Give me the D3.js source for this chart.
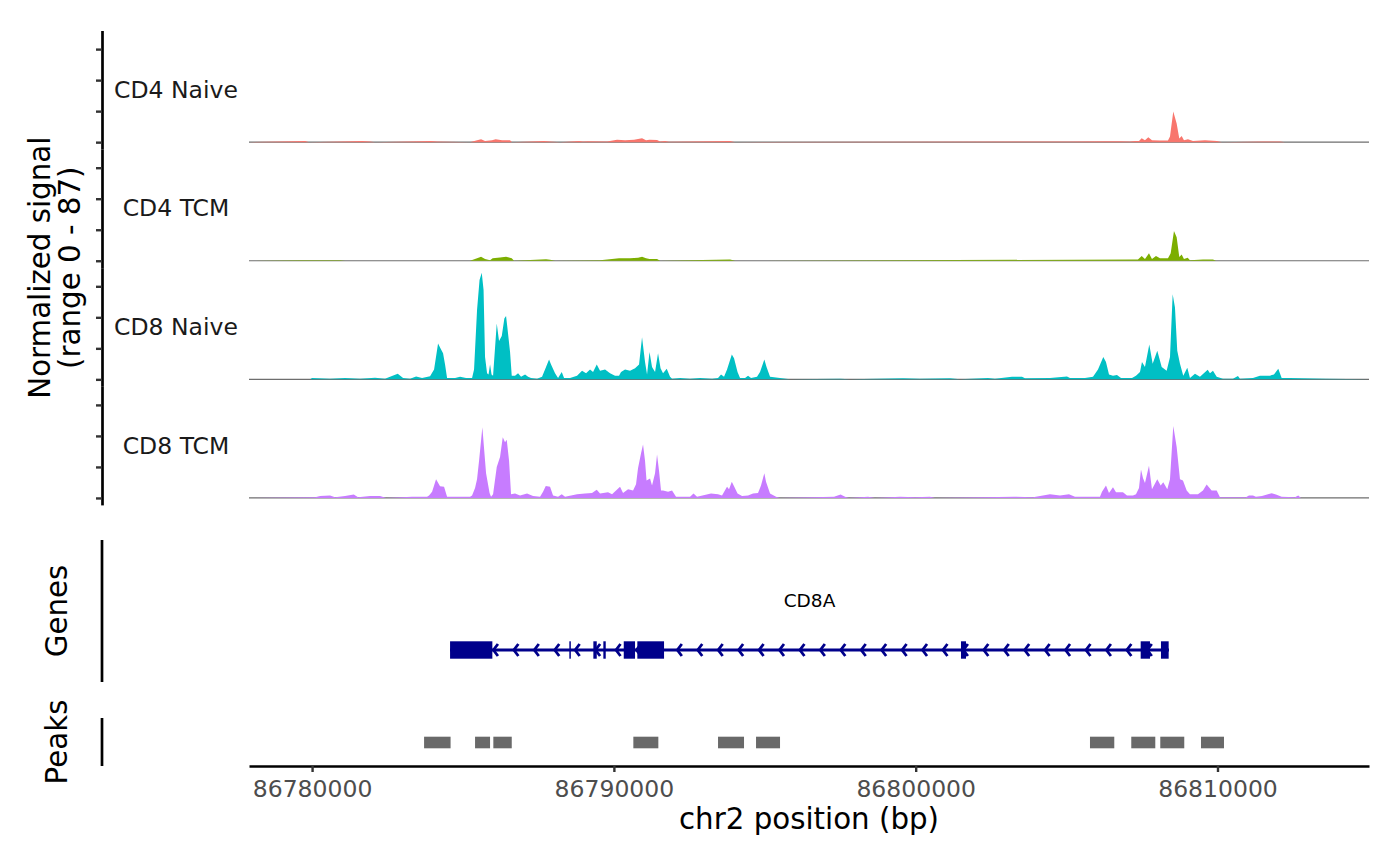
<!DOCTYPE html>
<html>
<head>
<meta charset="utf-8">
<script src="https://cdn.jsdelivr.net/npm/d3@7"></script>
<style>
  body { margin: 0; background: #fff; }
  svg text { font-family: "DejaVu Sans", sans-serif; }
</style>
</head>
<body>
<svg id="chart" width="1400" height="865"></svg>
<script>
// region shown (bp on chr2)
const region = [86777910, 86815020];
const xTicks = [86780000, 86790000, 86800000, 86810000];
const signalTicks = [0, 25, 50, 75];
const signalMax = 87;

const tracks = ['CD4 Naive', 'CD4 TCM', 'CD8 Naive', 'CD8 TCM'];
const trackColors = ['#F8766D', '#7CAE00', '#00BFC4', '#C77CFF'];

// coverage: [position, normalized signal]
const cd4Naive = [
  [86777910,0],[86779768,1],[86779901,0],[86781657,1],[86781922,0.5],[86782087,0],
  [86783942,1],[86784141,0.5],[86785235,0],[86785466,1.5],[86785599,2.4],[86785731,1],
  [86785963,1.5],[86786083,2.4],[86786295,1.6],[86786560,1.5],[86786626,0],[86787686,1],
  [86787885,0.5],[86788216,0],[86788846,1],[86788978,0.5],[86789144,0.8],[86789773,0.5],
  [86790105,2],[86790370,1.5],[86790668,2],[86790933,3.2],[86791065,1.5],[86791181,2],
  [86791430,1.8],[86791529,0.5],[86791695,1],[86791827,0.3],[86793848,1],[86794014,0],
  [86804616,0.5],[86805113,0.5],[86806272,0.8],[86806769,0.8],[86807100,0.5],[86807266,1],
  [86807399,1],[86807488,3.2],[86807597,1.5],[86807707,4],[86807829,1.5],[86808094,1.3],
  [86808359,1.3],[86808426,4.6],[86808535,24.7],[86808647,15],[86808734,3],[86808813,5],
  [86808889,1.5],[86809022,2.4],[86809188,1],[86809585,1.6],[86809983,1],[86810148,0],
  [86811507,0.5],[86812070,0.5],[86812235,0],[86815020,0]
];
const cd4Tcm = [
  [86777910,0],[86779636,0.5],[86780928,0.5],[86781093,0],[86785235,0],[86785466,2],
  [86785599,3.2],[86785731,1.5],[86785897,0.5],[86785983,2],[86786228,2.7],[86786427,3.2],
  [86786616,2],[86786692,0],[86787752,1.3],[86787885,0.8],[86788051,0],[86789541,0.5],
  [86790171,2],[86790535,2],[86790800,2.5],[86790933,3.2],[86791065,2],[86791181,1.5],
  [86791430,1.5],[86791529,0],[86793848,1],[86794014,0],[86807200,1],[86807365,1],
  [86807488,3.8],[86807597,1.5],[86807730,6],[86807829,1.5],[86807962,3.8],[86808094,2],
  [86808359,2],[86808449,6],[86808558,24],[86808647,19],[86808734,3],[86808813,5],
  [86808889,1.5],[86809012,2.4],[86809088,0.5],[86809519,1],[86809850,1],[86809950,0],
  [86815020,0]
];
const cd8Naive = [
  [86777910,0],[86779934,0],[86780000,1],[86780596,0.5],[86781093,1],[86781590,0.5],
  [86782087,1.2],[86782418,0.5],[86782584,2],[86782839,4.6],[86783015,1],[86783247,0.5],
  [86783446,2.4],[86783644,1],[86783909,2.5],[86784042,8],[86784174,29],[86784274,24],
  [86784340,21],[86784406,12],[86784473,1],[86784738,1],[86784903,2],[86785102,1],
  [86785301,1],[86785367,8],[86785466,56],[86785549,80],[86785622,86],[86785682,72],
  [86785731,18],[86785798,5],[86785847,4],[86785897,12],[86785947,4],[86785997,3],
  [86786119,45],[86786195,31],[86786285,35],[86786371,49],[86786427,51],[86786470,42],
  [86786560,22],[86786616,3],[86786725,3],[86786825,5],[86786924,2],[86787057,4],
  [86787156,2],[86787255,1],[86787454,0.5],[86787620,2],[86787752,10],[86787852,16],
  [86787918,12],[86788051,5],[86788150,1],[86788273,6],[86788349,1],[86788548,1],
  [86788779,3],[86788945,7],[86789078,5],[86789210,8],[86789310,6],[86789432,12],
  [86789541,7],[86789707,8],[86789873,5],[86790038,3],[86790171,3],[86790237,6],
  [86790370,8],[86790535,7],[86790701,9],[86790834,12],[86790933,34],[86791032,14],
  [86791099,4],[86791181,22],[86791264,10],[86791364,6],[86791463,21],[86791546,9],
  [86791629,5],[86791751,8.6],[86791861,2],[86791927,0.5],[86792192,1],[86792523,0.5],
  [86792854,1],[86793252,0.5],[86793451,1],[86793550,4],[86793650,2],[86793749,8],
  [86793908,20],[86793981,17],[86794097,6],[86794180,1],[86794345,1],[86794445,3],
  [86794544,1],[86794743,2],[86794842,6],[86794985,16],[86795058,10],[86795174,2],
  [86795505,1],[86795836,0],[86797493,0.5],[86797824,0],[86799580,0.8],[86800143,0.5],
  [86801137,0.8],[86801468,0],[86802396,1],[86802628,0.5],[86803191,2],[86803522,2],
  [86803622,0.8],[86804450,1],[86805013,2.4],[86805113,1],[86805444,1],[86805609,1],
  [86805875,2],[86806040,8],[86806216,18],[86806305,14],[86806405,4],[86806537,3],
  [86806670,3.5],[86806803,1],[86806968,1],[86807167,1],[86807299,3],[86807432,6],
  [86807498,14],[86807597,10],[86807740,28],[86807852,12.6],[86808005,23],[86808151,10],
  [86808316,7],[86808426,18],[86808515,68.5],[86808591,58],[86808667,23],[86808757,12.6],
  [86808866,3],[86808999,9.4],[86809088,1],[86809254,4.6],[86809419,2],[86809675,7.8],
  [86809751,5],[86809850,7],[86809973,2],[86810181,0.5],[86810513,0.5],[86810678,2.7],
  [86810745,0.5],[86811175,1],[86811407,3],[86811739,3],[86811871,4],[86812014,8.6],
  [86812126,1],[86812401,1],[86813594,0.5],[86815020,0]
];
const cd8Tcm = [
  [86777910,0],[86780099,0.5],[86780265,1.5],[86780596,2],[86780762,0.5],[86781093,1.5],
  [86781382,2.7],[86781524,0.5],[86781922,1.5],[86782253,1.5],[86782452,0],[86783313,1],
  [86783810,1],[86783876,2],[86783976,5],[86784108,15],[86784241,9.4],[86784373,9],
  [86784473,1],[86784903,1],[86785235,1],[86785301,2],[86785400,8],[86785466,15],
  [86785533,30],[86785642,57],[86785698,40],[86785765,20],[86785881,4],[86785930,1],
  [86785997,3],[86786119,25],[86786228,33],[86786318,49],[86786394,45],[86786450,47],
  [86786527,30],[86786593,3],[86786725,3.5],[86786891,2],[86787123,3.5],[86787322,1.5],
  [86787554,1],[86787653,5],[86787743,9.7],[86787885,9],[86787984,2],[86788150,1],
  [86788273,3],[86788382,1],[86788779,3],[86789044,3.5],[86789276,4],[86789432,6.7],
  [86789541,3.5],[86789806,4.5],[86789939,3],[86790204,9],[86790303,4],[86790469,7],
  [86790635,6],[86790734,11],[86790800,24],[86790900,36],[86790966,43],[86791032,30],
  [86791082,14],[86791198,15.6],[86791264,10],[86791364,20],[86791430,35],[86791496,22],
  [86791562,6],[86791629,6],[86791794,5],[86791927,6],[86792059,1],[86792523,1],
  [86792639,3.5],[86792755,1],[86793219,3.5],[86793451,3],[86793583,2],[86793749,9],
  [86793815,7],[86793908,13],[86793981,9.4],[86794097,3.5],[86794246,1.5],[86794445,2],
  [86794610,3.5],[86794776,4],[86794875,10],[86794985,20],[86795041,13],[86795174,3.5],
  [86795372,1],[86795505,0],[86797294,1],[86797513,2.7],[86797658,1],[86797791,0],
  [86798420,1],[86798652,0],[86799480,1],[86799977,0.5],[86800474,1],[86800640,0],
  [86803257,1],[86803887,0.5],[86804450,3],[86804781,2],[86805079,3],[86805278,1],
  [86806106,1],[86806173,5],[86806305,10],[86806405,4],[86806537,8.6],[86806637,4.6],
  [86806868,4.6],[86807001,2],[86807200,2],[86807299,3],[86807399,8],[86807465,23],
  [86807531,16],[86807597,12],[86807730,26],[86807829,7],[86808005,15],[86808117,10],
  [86808204,12.6],[86808336,7],[86808426,15],[86808535,58],[86808647,41],[86808757,15],
  [86808856,14],[86808979,6],[86809088,3],[86809353,3],[86809519,6],[86809641,10.8],
  [86809807,6],[86809973,6],[86810082,0.5],[86810943,0.5],[86811043,2],[86811175,2],
  [86811274,1],[86811474,1.5],[86811672,3],[86811795,3.8],[86811937,2.7],[86812126,1],
  [86812567,0.5],[86812676,2],[86812766,0],[86815020,0]
];
const trackData = [cd4Naive, cd4Tcm, cd8Naive, cd8Tcm];

// gene model (minus strand)
const geneName = 'CD8A';
const geneSpan = [86784572, 86808392];
const exons = [
  [86784572,86785973],[86788524,86788571],[86789320,86789432],[86789651,86789730],
  [86790327,86790701],[86790777,86791662],[86801501,86801667],[86807455,86807763],
  [86808127,86808382]
];
const arrowStep = 677, firstArrow = 86786009;

const peaks = [
  [86783711,86784589],[86785400,86785897],[86786006,86786616],[86790645,86791473],
  [86793451,86794312],[86794710,86795505],[86805775,86806580],[86807143,86807939],
  [86808104,86808899],[86809453,86810215]
];

// layout
const axisX = 102, px0 = 249, px1 = 1369;
const covTop = 30.5, trackH = 118.6;
const genesBox = [540, 682], geneY = 650;
const peaksBox = [718, 766], peakY = 742.5;

const svg = d3.select('#chart');
const x = d3.scaleLinear().domain(region).range([px0, px1]);

svg.append('defs').append('clipPath').attr('id', 'clip')
  .append('rect').attr('x', px0).attr('y', 0).attr('width', px1 - px0).attr('height', 865);

// coverage tracks
tracks.forEach((name, i) => {
  const top = covTop + i * trackH, bottom = top + trackH;
  const y = d3.scaleLinear().domain([-5.6, 90]).range([bottom, top]);
  const g = svg.append('g');

  g.append('line')
    .attr('x1', px0).attr('x2', px1).attr('y1', y(0)).attr('y2', y(0))
    .attr('stroke', '#6e6e6e').attr('stroke-width', 1.2);

  const area = d3.area().x(d => x(d[0])).y0(y(0)).y1(d => y(d[1]));
  g.append('path').datum(trackData[i])
    .attr('clip-path', 'url(#clip)')
    .attr('d', area).attr('fill', trackColors[i]);

  const ax = g.append('g').attr('transform', `translate(${axisX},0)`)
    .call(d3.axisLeft(y).tickValues(signalTicks).tickFormat('').tickSize(6).tickSizeOuter(0));
  ax.select('.domain').attr('stroke', '#000').attr('stroke-width', 2.7);
  ax.selectAll('.tick line').attr('stroke', '#333').attr('stroke-width', 2.4);

  g.append('text')
    .attr('x', (axisX + px0) / 2 + 0.5).attr('y', (top + bottom) / 2)
    .attr('text-anchor', 'middle').attr('dominant-baseline', 'central')
    .attr('font-size', 23.5).attr('fill', '#1a1a1a').text(name);
});

// y title
const yTitle = svg.append('text')
  .attr('transform', `translate(0,${covTop + 2 * trackH}) rotate(-90)`)
  .attr('text-anchor', 'middle').attr('font-size', 29.3).attr('fill', '#000');
yTitle.append('tspan').attr('x', 0).attr('y', 50).text('Normalized signal');
yTitle.append('tspan').attr('x', 0).attr('y', 80).text(`(range 0 - ${signalMax})`);

// genes panel
svg.append('line').attr('x1', axisX).attr('x2', axisX)
  .attr('y1', genesBox[0]).attr('y2', genesBox[1])
  .attr('stroke', '#000').attr('stroke-width', 2.7);
svg.append('text')
  .attr('transform', `translate(67,${(genesBox[0] + genesBox[1]) / 2}) rotate(-90)`)
  .attr('text-anchor', 'middle').attr('font-size', 29.3).text('Genes');

const geneG = svg.append('g');
const navy = '#00008B';
geneG.append('line')
  .attr('x1', x(geneSpan[0])).attr('x2', x(geneSpan[1]))
  .attr('y1', geneY).attr('y2', geneY)
  .attr('stroke', navy).attr('stroke-width', 3);

const arrows = d3.range(firstArrow, geneSpan[1] - 200, arrowStep);
geneG.selectAll('path.chev').data(arrows).enter().append('path')
  .attr('class', 'chev')
  .attr('d', d => `M${x(d) + 4.5},${geneY - 6} L${x(d)},${geneY} L${x(d) + 4.5},${geneY + 6}`)
  .attr('fill', 'none').attr('stroke', navy).attr('stroke-width', 2.8);

geneG.selectAll('rect').data(exons).enter().append('rect')
  .attr('x', d => x(d[0]))
  .attr('width', d => Math.max(1.5, x(d[1]) - x(d[0])))
  .attr('y', geneY - 8.7).attr('height', 17.4)
  .attr('fill', navy);

geneG.append('text')
  .attr('x', x((geneSpan[0] + geneSpan[1]) / 2)).attr('y', 600)
  .attr('text-anchor', 'middle').attr('dominant-baseline', 'central')
  .attr('font-size', 18.5).attr('fill', '#000').text(geneName);

// peaks panel
svg.append('line').attr('x1', axisX).attr('x2', axisX)
  .attr('y1', peaksBox[0]).attr('y2', peaksBox[1])
  .attr('stroke', '#000').attr('stroke-width', 2.7);
svg.append('text')
  .attr('transform', `translate(67,${(peaksBox[0] + peaksBox[1]) / 2}) rotate(-90)`)
  .attr('text-anchor', 'middle').attr('font-size', 29.3).text('Peaks');

svg.append('g').selectAll('rect').data(peaks).enter().append('rect')
  .attr('x', d => x(d[0])).attr('width', d => x(d[1]) - x(d[0]))
  .attr('y', peakY - 5.8).attr('height', 11.6)
  .attr('fill', '#696969');

// x axis
const xa = svg.append('g').attr('transform', `translate(0,${peaksBox[1]})`)
  .call(d3.axisBottom(x).tickValues(xTicks).tickFormat(d3.format('d'))
    .tickSize(6).tickSizeOuter(0).tickPadding(8));
xa.select('.domain').attr('stroke', '#000').attr('stroke-width', 2.7);
xa.selectAll('.tick line').attr('stroke', '#333').attr('stroke-width', 2.4);
xa.selectAll('.tick text').attr('font-size', 23.5).attr('fill', '#4d4d4d')
  .attr('font-family', '"DejaVu Sans", sans-serif');

svg.append('text')
  .attr('x', (px0 + px1) / 2).attr('y', 829)
  .attr('text-anchor', 'middle').attr('font-size', 29.3).attr('fill', '#000')
  .text('chr2 position (bp)');
</script>
</body>
</html>
